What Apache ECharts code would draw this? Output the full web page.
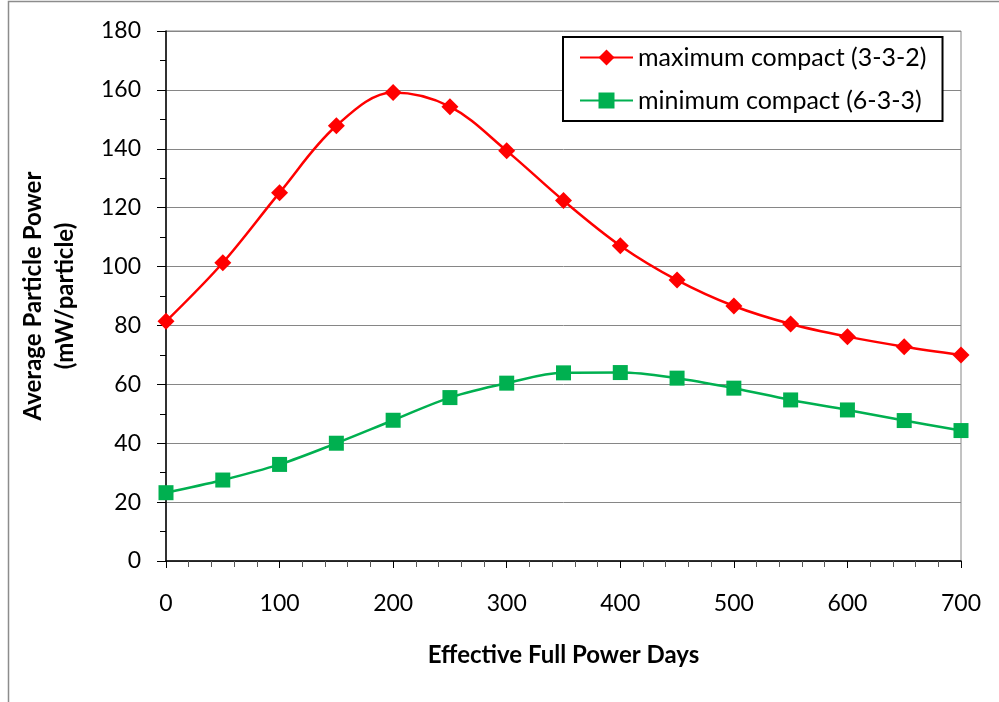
<!DOCTYPE html>
<html>
<head>
<meta charset="utf-8">
<script src="https://cdn.jsdelivr.net/npm/echarts@6/dist/echarts.min.js"></script>
<style>html,body{margin:0;padding:0;background:#fff;}#c{width:999px;height:702px;}</style>
</head>
<body>
<div id="c"></div>
<script>
var days = [0, 50, 100, 150, 200, 250, 300, 350, 400, 450, 500, 550, 600, 650, 700];
var maxCompact = [81.4, 101.3, 125.1, 147.8, 159.1, 154.3, 139.3, 122.4, 107.1, 95.4, 86.6, 80.5, 76.2, 72.8, 70.0];
var minCompact = [23.2, 27.5, 32.8, 40.0, 47.8, 55.5, 60.4, 63.9, 64.0, 62.1, 58.7, 54.7, 51.3, 47.7, 44.3];
var seriesNames = ['maximum compact (3-3-2)', 'minimum compact (6-3-3)'];
var xTitle = 'Effective Full Power Days';
var yTitle = 'Average Particle Power\n(mW/particle)';

var FONT = 'Lato';
var chart = echarts.init(document.getElementById('c'));
function pairs(vals) { return days.map(function (d, i) { return [d, vals[i]]; }); }
chart.setOption({
  animation: false,
  backgroundColor: '#fff',
  textStyle: { fontFamily: FONT },
  graphic: [{
    type: 'rect', silent: true,
    shape: { x: 8.5, y: 1.5, width: 1100, height: 800 },
    style: { fill: 'none', stroke: '#8c8c8c', lineWidth: 1.5 }
  }],
  grid: { left: 166, right: 38, top: 31, bottom: 141, show: true, borderColor: '#868686', borderWidth: 1, backgroundColor: 'transparent' },
  legend: {
    orient: 'vertical', left: 563, top: 37,
    borderColor: '#000', borderWidth: 2, borderRadius: 0,
    backgroundColor: '#fff',
    padding: [8, 16, 8, 16],
    itemWidth: 53, itemHeight: 20, itemGap: 18,
    textStyle: { fontFamily: FONT, fontSize: 25, color: '#000' },
    data: seriesNames
  },
  xAxis: {
    type: 'value', min: 0, max: 700, interval: 100,
    name: xTitle, nameLocation: 'middle', nameGap: 82,
    nameTextStyle: { fontFamily: FONT, fontSize: 24, fontWeight: 'bold', color: '#000' },
    axisLine: { show: true, onZero: false, lineStyle: { color: '#000', width: 1.5 } },
    axisTick: { show: true, length: 7, lineStyle: { color: '#000' } },
    minorTick: { show: true, splitNumber: 5, length: 6, lineStyle: { color: '#555' } },
    axisLabel: { margin: 31, fontFamily: FONT, fontSize: 23, color: '#000' },
    splitLine: { show: false }
  },
  yAxis: {
    type: 'value', min: 0, max: 180, interval: 20,
    name: yTitle, nameLocation: 'middle', nameGap: 85, nameRotate: 90,
    nameTextStyle: { fontFamily: FONT, fontSize: 24, fontWeight: 'bold', color: '#000', lineHeight: 32 },
    axisLine: { show: true, lineStyle: { color: '#000', width: 1.5 } },
    axisTick: { show: true, length: 9, lineStyle: { color: '#000' } },
    minorTick: { show: true, splitNumber: 2, length: 6, lineStyle: { color: '#000' } },
    axisLabel: { margin: 25, fontFamily: FONT, fontSize: 23, color: '#000' },
    splitLine: { show: true, lineStyle: { color: '#868686', width: 1 } }
  },
  series: [{
    name: seriesNames[0], type: 'line', data: pairs(maxCompact), smooth: 0.35,
    symbol: 'diamond', symbolSize: 17,
    lineStyle: { color: '#ff0000', width: 2.5 },
    itemStyle: { color: '#ff0000' }
  }, {
    name: seriesNames[1], type: 'line', data: pairs(minCompact), smooth: 0.35,
    symbol: 'rect', symbolSize: 15,
    lineStyle: { color: '#00b050', width: 2.5 },
    itemStyle: { color: '#00b050' }
  }]
});
</script>
</body>
</html>
